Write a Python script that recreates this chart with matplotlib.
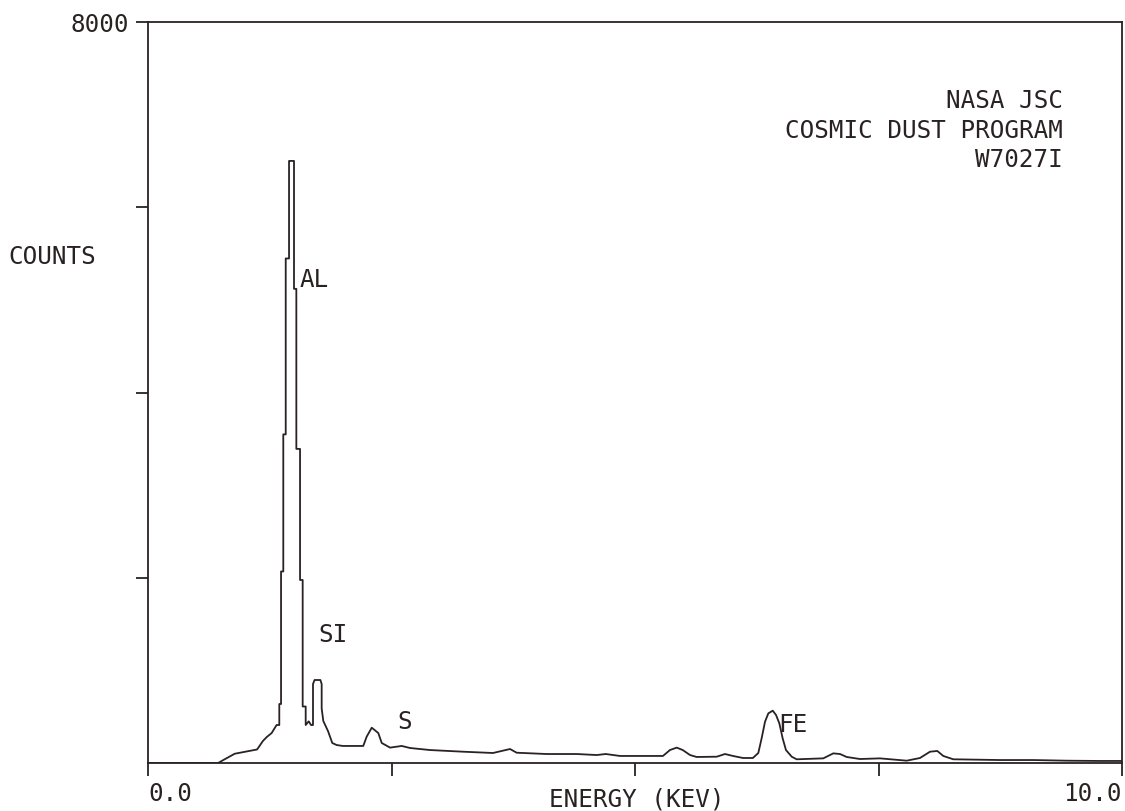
import matplotlib
matplotlib.use('Agg')
import matplotlib.pyplot as plt

# spectrum (energy in keV, counts); repeated energies are the vertical steps
energy = [0.0, 0.72, 0.77, 0.89, 1.12, 1.18, 1.22, 1.27, 1.32, 1.348, 1.348, 1.366, 1.366,
          1.389, 1.389, 1.414, 1.414, 1.448, 1.448, 1.499, 1.499, 1.523, 1.523, 1.561, 1.561,
          1.588, 1.588, 1.619, 1.619, 1.65, 1.674, 1.694, 1.694, 1.71, 1.77, 1.783, 1.783,
          1.80, 1.848, 1.892, 1.937, 2.00, 2.21, 2.245, 2.297, 2.364, 2.40, 2.485, 2.605,
          2.69, 2.895, 3.234, 3.542, 3.717, 3.785, 4.093, 4.401, 4.607, 4.70, 4.846, 5.287,
          5.359, 5.428, 5.49, 5.565, 5.633, 5.839, 5.924, 6.006, 6.109, 6.21, 6.266, 6.30,
          6.335, 6.369, 6.414, 6.448, 6.482, 6.516, 6.55, 6.609, 6.66, 6.933, 7.036, 7.105,
          7.173, 7.31, 7.515, 7.79, 7.926, 8.029, 8.104, 8.165, 8.268, 8.747, 9.086, 9.432,
          9.774, 10.0]
counts = [0, 0, 30, 100, 146, 238, 281, 324, 410, 410, 637, 637, 2068,
          2068, 3548, 3548, 5447, 5447, 6500, 6500, 5119, 5119, 3391, 3391, 1976,
          1976, 610, 610, 410, 450, 410, 410, 853, 896, 896, 853, 589,
          453, 345, 216, 194, 184, 184, 284, 381, 324, 216, 166, 184,
          162, 140, 122, 108, 151, 111, 97, 97, 86, 97, 76, 76,
          140, 166, 140, 86, 65, 68, 97, 76, 54, 54, 108, 266,
          446, 536, 565, 518, 428, 266, 140, 68, 40, 50, 104, 97,
          65, 43, 50, 25, 54, 122, 130, 76, 40, 32, 32, 25,
          22, 22]

peak_names = ['AL', 'SI', 'S', 'FE']
peak_x = [1.56, 1.745, 2.56, 6.47]
peak_y = [5216, 1382, 443, 410]

header = ['NASA JSC', 'COSMIC DUST PROGRAM', 'W7027I']

ink = '#2a2222'
font = 'DejaVu Sans Mono'
fs = 17.5

fig = plt.figure(figsize=(11.25, 8.11), dpi=100)
ax = fig.add_axes([148 / 1125, 48 / 811, 974 / 1125, 741 / 811])

ax.plot(energy, counts, color=ink, lw=1.3)

ax.set_xlim(0, 10)
ax.set_ylim(0, 8000)
for s in ax.spines.values():
    s.set_color(ink)
    s.set_linewidth(1.3)

ax.set_xticks([0, 2.5, 5, 7.5, 10])
ax.set_xticklabels(['0.0', '', '', '', '10.0'], family=font, fontsize=fs, color=ink)
xl = ax.get_xticklabels()
xl[0].set_ha('left')
xl[-1].set_ha('right')
ax.set_yticks([2000, 4000, 6000, 8000])
ax.set_yticklabels(['', '', '', '8000'], family=font, fontsize=fs, color=ink)
ax.tick_params(direction='out', length=9, width=1.3, color=ink, pad=5)

for name, px, py in zip(peak_names, peak_x, peak_y):
    ax.text(px, py, name, family=font, fontsize=fs, color=ink, va='center', ha='left')

for i, line in enumerate(header):
    fig.text(1063 / 1125, 1 - (101 + 29.5 * i) / 811, line, family=font, fontsize=fs,
             color=ink, ha='right', va='center')

fig.text(8 / 1125, 1 - 257 / 811, 'COUNTS', family=font, fontsize=fs, color=ink, va='center')
fig.text(637 / 1125, 1 - 799 / 811, 'ENERGY (KEV)', family=font, fontsize=fs, color=ink,
         ha='center', va='center')

fig.savefig('out.png', dpi=100, facecolor='white')
